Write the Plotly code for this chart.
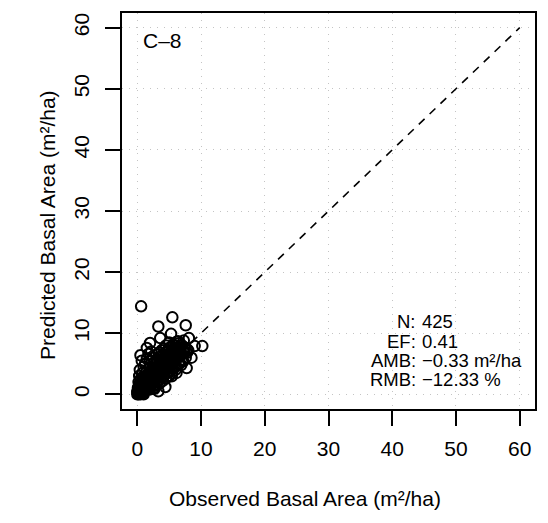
import plotly.graph_objects as go

# ---- data ----
observed = [
    0.1, 0.2, 0.3, 0.2, 0.4, 0.5, 0.6, 0.7, 0.8, 0.9, 1.0, 1.1, 1.2, 1.3, 1.4, 1.5, 1.6, 1.7, 1.8, 1.9,
    2.0, 2.1, 2.2, 2.3, 2.4, 2.5, 2.6, 2.7, 2.8, 2.9, 3.0, 3.1, 3.2, 3.3, 3.4, 3.5, 3.6, 3.7, 3.8, 3.9,
    4.0, 4.1, 4.2, 4.3, 4.4, 4.5, 4.6, 4.7, 4.8, 4.9, 5.0, 5.1, 5.2, 5.3, 5.4, 5.5, 5.6, 5.7, 5.8, 5.9,
    6.0, 6.1, 6.2, 6.3, 6.5, 6.6, 6.8, 7.0, 7.2, 7.4,
    1.0, 2.0, 2.5, 3.0, 3.5, 4.0, 4.5, 5.0, 5.5, 6.0, 0.5, 1.0,
    0.2, 0.3, 0.5, 0.4, 0.8, 1.0, 1.2, 0.7, 1.5, 2.0, 2.5, 3.0, 2.2, 3.8, 4.5, 5.0, 4.2,
    0.0, 0.1, 0.3, 0.2, 0.5, 0.6, 0.4, 0.9, 1.1, 0.8, 1.3, 1.2, 1.6, 1.8, 1.5, 2.1, 2.3, 1.9, 2.6, 2.8,
    2.4, 3.1, 3.3, 3.0, 3.6, 3.8, 3.5, 4.1, 4.3, 4.0, 4.6, 4.8, 4.5, 5.1, 5.3, 5.0, 5.6, 5.8, 5.5, 6.1,
    6.3, 6.0, 6.6, 6.8, 6.4, 7.1, 7.3, 7.0, 7.6, 7.8, 8.0, 7.5,
    0.6, 5.5, 3.3, 7.6, 5.3, 3.6, 2.0, 1.5, 0.5, 1.75, 3.4, 6.4, 8.1, 10.2, 9.0, 7.8, 8.5, 7.75, 6.15,
    5.4, 3.3, 4.4, 2.7, 6.9, 7.2,
    0.0, 0.1, 0.2, 0.3, 0.4, 0.6, 0.7, 0.9, 1.0, 1.2, 1.4, 1.6, 1.7, 1.9, 2.1, 2.2, 2.4, 2.6, 2.7, 2.9,
    3.1, 3.2, 3.4, 3.6, 3.7, 3.9, 4.1, 4.2, 4.4, 4.6, 4.7, 4.9, 5.1, 5.2, 5.4, 5.6, 5.7, 5.9, 6.1, 6.2,
    0.3, 0.6, 0.9, 1.2, 1.5, 1.8, 2.1, 2.4, 2.7, 3.0, 3.3, 3.6, 3.9, 4.2, 4.5, 4.8, 5.1, 5.4, 5.7, 6.0,
    0.8, 1.4, 2.0, 2.6, 3.2, 3.8, 4.4, 5.0, 5.6, 6.2, 6.7, 7.3,
]
predicted = [
    0.2, 0.1, 0.5, 0.8, 0.3, 1.0, 0.4, 1.2, 0.6, 1.5, 0.8, 1.9, 1.1, 0.7, 2.2, 1.4, 2.6, 1.2, 2.0, 3.0,
    1.6, 2.4, 3.3, 1.9, 2.8, 3.6, 2.2, 3.1, 4.0, 2.5, 3.4, 4.4, 2.8, 3.7, 4.8, 3.0, 4.1, 5.1, 3.4, 4.5,
    5.5, 3.7, 4.8, 5.9, 4.0, 5.2, 6.2, 4.4, 5.5, 6.5, 4.7, 5.8, 6.8, 5.0, 6.1, 7.1, 5.3, 6.4, 7.3, 5.6,
    6.7, 7.5, 5.9, 6.9, 7.7, 6.2, 7.1, 6.5, 7.4, 6.8,
    0.2, 0.8, 1.0, 1.5, 1.8, 2.2, 2.6, 3.0, 3.5, 4.0, 0.0, 0.0,
    2.0, 3.0, 2.5, 4.0, 3.5, 4.5, 5.0, 5.5, 5.8, 5.5, 6.0, 6.5, 7.0, 7.2, 8.0, 8.5, 7.5,
    0.0, 0.5, 0.1, 1.2, 0.6, 1.6, 1.8, 0.3, 1.0, 2.1, 1.6, 2.6, 0.9, 1.5, 3.2, 1.2, 3.0, 2.5, 1.5, 2.9,
    4.2, 2.0, 3.0, 5.0, 2.4, 4.0, 5.5, 3.0, 4.5, 6.2, 3.4, 5.0, 6.8, 3.8, 5.5, 7.2, 4.2, 6.0, 7.8, 4.6,
    6.3, 8.0, 5.0, 6.5, 8.3, 5.5, 7.0, 8.0, 6.0, 6.8, 7.2, 7.6,
    14.4, 12.6, 11.1, 11.3, 9.9, 9.2, 8.4, 7.6, 6.4, 6.6, 6.8, 8.7, 9.2, 7.9, 7.9, 7.4, 6.0, 4.3, 3.5,
    2.95, 0.5, 1.2, 0.9, 4.8, 5.4,
    0.4, 1.0, 0.0, 1.5, 0.9, 0.3, 1.9, 0.6, 2.3, 1.0, 2.6, 1.3, 2.9, 1.7, 3.2, 2.0, 3.5, 2.3, 3.9, 2.6,
    4.2, 3.0, 4.5, 3.3, 4.9, 3.6, 5.2, 3.9, 5.6, 4.2, 5.9, 4.5, 6.2, 4.9, 6.6, 5.2, 6.9, 5.5, 7.1, 5.8,
    0.9, 1.3, 1.7, 2.0, 2.4, 2.8, 3.1, 3.5, 3.8, 4.2, 4.5, 4.9, 5.2, 5.6, 5.9, 6.2, 6.5, 6.8, 7.0, 7.3,
    2.8, 3.6, 4.4, 5.0, 5.7, 6.3, 6.9, 7.6, 8.1, 8.6, 7.9, 8.8,
]
ticks = [0, 10, 20, 30, 40, 50, 60]
stat_labels = ["N:", "EF:", "AMB:", "RMB:"]
stat_values = ["425", "0.41", "\u22120.33 m\u00b2/ha", "\u221212.33 %"]
panel_label = "C\u20138"

FONT = "Liberation Sans, Arial, Helvetica, sans-serif"
FS = 21
FS_STAT = 18.5

fig = go.Figure()

# 1:1 reference line
fig.add_trace(go.Scatter(
    x=[ticks[0], ticks[-1]], y=[ticks[0], ticks[-1]], mode="lines",
    line=dict(color="black", width=1.6, dash="8px,7px"), hoverinfo="skip", showlegend=False))

fig.add_trace(go.Scatter(
    x=observed, y=predicted, mode="markers",
    marker=dict(symbol="circle-open", size=10.5, color="black", line=dict(color="black", width=2)),
    showlegend=False))

axis_common = dict(
    range=[-2.4, 62.4], tickvals=ticks, ticktext=[str(t) for t in ticks],
    showgrid=True, gridcolor="#c4c4c4", griddash="1px,6px", gridwidth=1.2,
    zeroline=False, showline=True, linecolor="black", linewidth=2, mirror=True,
    ticks="outside", ticklen=15, tickwidth=1.5, tickcolor="black",
    tickfont=dict(family=FONT, size=FS, color="black"),
)
fig.update_xaxes(**axis_common, ticklabelstandoff=5)
fig.update_yaxes(**axis_common, tickangle=-90, ticklabelstandoff=8)

annotations = [
    dict(text="Observed Basal Area (m\u00b2/ha)", xref="paper", yref="paper", x=0.5,
         y=0, yanchor="middle", xanchor="center", xshift=-24, yshift=-89, showarrow=False,
         font=dict(family=FONT, size=FS, color="black")),
    dict(text="Predicted Basal Area (m\u00b2/ha)", xref="paper", yref="paper", x=0, y=0.5,
         xanchor="center", yanchor="middle", xshift=-75, yshift=-14, textangle=-90, showarrow=False,
         font=dict(family=FONT, size=FS, color="black")),
    dict(text=panel_label, xref="x", yref="y", x=0.6, y=57.9, xanchor="left", yanchor="middle",
         showarrow=False, font=dict(family=FONT, size=FS, color="black")),
]
stat_y = [11.9, 8.7, 5.5, 2.35]
for lab, val, yy in zip(stat_labels, stat_values, stat_y):
    annotations.append(dict(text=lab, xref="x", yref="y", x=44.0, y=yy, xanchor="right", yanchor="middle",
                            showarrow=False, font=dict(family=FONT, size=FS_STAT, color="black")))
    annotations.append(dict(text=val, xref="x", yref="y", x=44.0, y=yy, xanchor="left", yanchor="middle",
                            showarrow=False, xshift=2, font=dict(family=FONT, size=FS_STAT, color="black")))

fig.update_layout(
    width=548, height=523,
    margin=dict(l=122, r=11, t=11, b=114, pad=0),
    paper_bgcolor="white", plot_bgcolor="white",
    annotations=annotations,
    showlegend=False,
)
fig.write_html("out.html")
